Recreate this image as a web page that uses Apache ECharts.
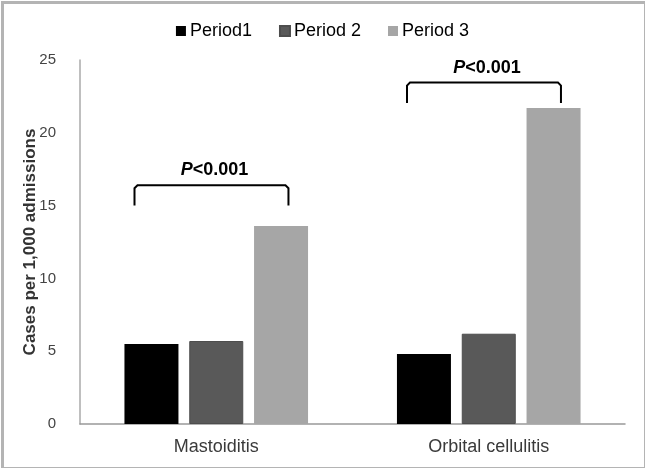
<!DOCTYPE html>
<html>
<head>
<meta charset="utf-8">
<script src="https://cdn.jsdelivr.net/npm/echarts@6/dist/echarts.min.js"></script>
<style>
  html, body { margin: 0; padding: 0; background: #fff; }
  #main { width: 645px; height: 468px; }
</style>
</head>
<body>
<div id="main"></div>
<script>
// data
const categories = ["Mastoiditis", "Orbital cellulitis"];
const seriesNames = ["Period1", "Period 2", "Period 3"];
const period1 = [5.5, 4.8];
const period2 = [5.7, 6.2];
const period3 = [13.6, 21.7];
const barColors = ["#000000", "#595959", "#a6a6a6"];
const yTicks = [0, 5, 10, 15, 20, 25];

// significance brackets: [category index, top of bracket, bottom of legs]
const brackets = [
  [0, 16.4, 15.0],
  [1, 23.45, 22.05],
];
const pLabel = "<0.001";

const chart = echarts.init(document.getElementById("main"));

const makeBar = (name, data, color) => ({
  name: name,
  type: "bar",
  data: data,
  barWidth: 54,
  barGap: "20%",
  itemStyle: { color: color, borderColor: "#4d4d4d", borderWidth: color === "#595959" ? 1 : 0 },
});

const option = {
  animation: false,
  backgroundColor: "#fff",
  textStyle: { fontFamily: "Liberation Sans, Arial, sans-serif" },
  graphic: [
    {
      type: "rect",
      left: 0,
      top: 0,
      shape: { width: 643, height: 466 },
      style: { fill: null, stroke: "#b4b4b4", lineWidth: 3 },
      z: 100,
    },
  ],
  legend: {
    data: seriesNames,
    top: 17,
    left: "center",
    itemWidth: 10,
    itemHeight: 10,
    itemGap: 27,
    icon: "rect",
    textStyle: { fontSize: 18, color: "#000", padding: [0, 0, 0, -1] },
  },
  grid: { left: 80, right: 20, top: 60, bottom: 44 },
  xAxis: {
    type: "category",
    data: categories,
    axisLine: { lineStyle: { color: "#999", width: 1.5 } },
    axisTick: { show: false },
    axisLabel: { fontSize: 18, color: "#3a3a3a", margin: 14 },
  },
  yAxis: {
    type: "value",
    min: yTicks[0],
    max: yTicks[yTicks.length - 1],
    interval: 5,
    name: "Cases per 1,000 admissions",
    nameLocation: "middle",
    nameGap: 41,
    nameMoveOverlap: false,
    nameTextStyle: { fontSize: 17, fontWeight: "bold", color: "#333" },
    axisLine: { show: true, lineStyle: { color: "#aaa", width: 1.5 } },
    axisTick: { show: false },
    splitLine: { show: false },
    axisLabel: { fontSize: 15, color: "#444", margin: 24 },
  },
  series: [
    makeBar(seriesNames[0], period1, barColors[0]),
    makeBar(seriesNames[1], period2, barColors[1]),
    makeBar(seriesNames[2], period3, barColors[2]),
    {
      type: "custom",
      data: brackets,
      z: 10,
      renderItem: (params, api) => {
        const idx = api.value(0);
        const top = api.coord([idx, api.value(1)]);
        const bottom = api.coord([idx, api.value(2)]);
        const band = api.size([1, 0])[0];
        const x1 = top[0] - 0.3 * band;
        const x2 = top[0] + 0.265 * band;
        const r = 3;
        return {
          type: "group",
          children: [
            {
              type: "polyline",
              shape: {
                points: [
                  [x1, bottom[1]],
                  [x1, top[1] + r],
                  [x1 + r, top[1]],
                  [x2 - r, top[1]],
                  [x2, top[1] + r],
                  [x2, bottom[1]],
                ],
              },
              style: { stroke: "#000", lineWidth: 2, fill: null },
            },
            {
              type: "text",
              x: (x1 + x2) / 2 + 3,
              y: top[1] - 6,
              style: {
                text: "{p|P}{v|" + pLabel + "}",
                align: "center",
                verticalAlign: "bottom",
                rich: {
                  p: { fontSize: 18, fontWeight: "bold", fontStyle: "italic", fill: "#000", fontFamily: "Liberation Sans, Arial, sans-serif" },
                  v: { fontSize: 18, fontWeight: "bold", fill: "#000", fontFamily: "Liberation Sans, Arial, sans-serif" },
                },
              },
            },
          ],
        };
      },
    },
  ],
};

chart.setOption(option);
</script>
</body>
</html>
